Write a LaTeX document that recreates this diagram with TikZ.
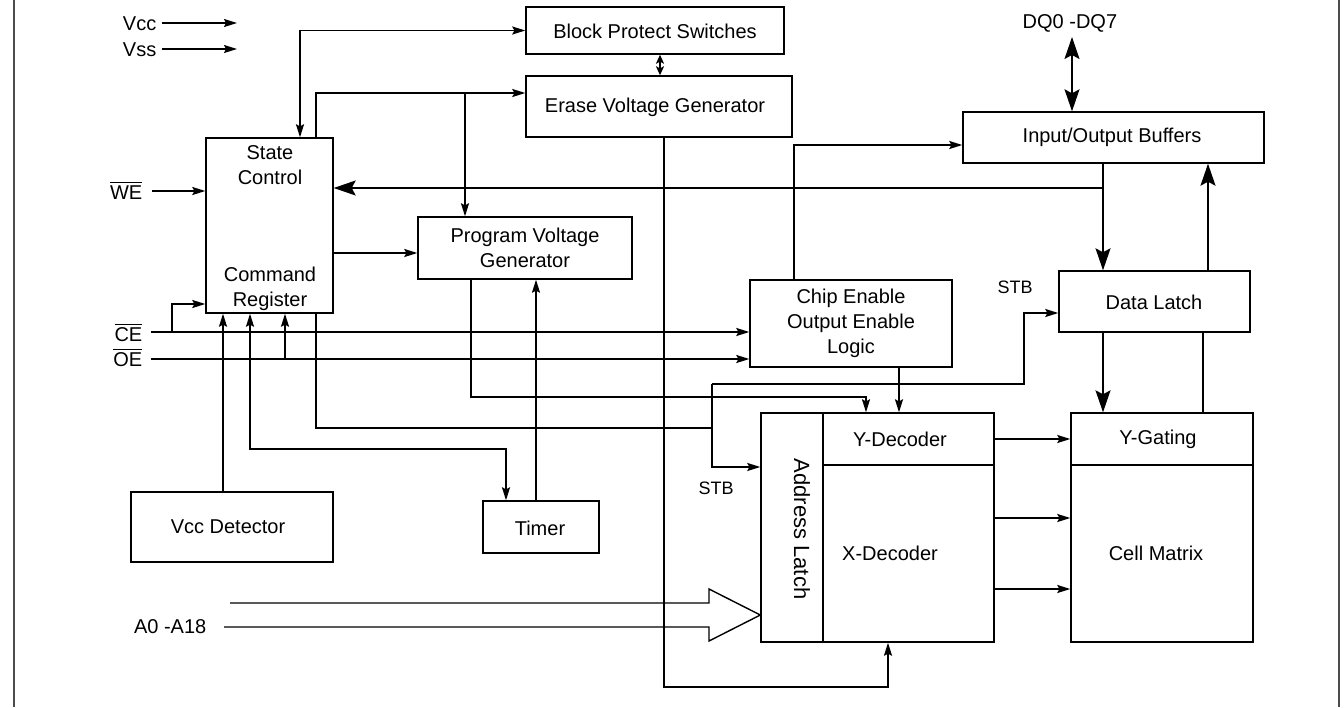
\documentclass[tikz,border=0pt]{standalone}
\usepackage{fontspec}
\setmainfont{Liberation Sans}
\usetikzlibrary{arrows.meta,fit}
\begin{document}
\begin{tikzpicture}[x=0.5pt,y=-0.5pt,
  line width=0.7pt,
  every node/.style={font=\fontsize{10}{12.5}\selectfont},
  box/.style={draw, inner sep=0pt},
  lbl/.style={inner sep=0pt, align=center},
  small/.style={font=\fontsize{9}{11}\selectfont},
  arr/.style={-{Stealth[length=6.5pt,width=4pt,inset=1pt]}},
  both/.style={{Stealth[length=6.5pt,width=4pt,inset=1pt]}-{Stealth[length=6.5pt,width=4pt,inset=1pt]}},
  tinyboth/.style={{Stealth[length=4.5pt,width=4pt,inset=1pt]}-{Stealth[length=4.5pt,width=4pt,inset=1pt]}},
  bigarr/.style={-{Stealth[length=11pt,width=7.5pt,inset=2pt]}},
  bigboth/.style={{Stealth[length=11pt,width=7.5pt,inset=2pt]}-{Stealth[length=11pt,width=7.5pt,inset=2pt]}},
  frame/.style={draw=black!70, line width=1pt}
]
\useasboundingbox (0,0) rectangle (1344,707);
\draw[frame] (14,0) -- (14,707);
\draw[frame] (1339,0) -- (1339,707);

% boxes
\node[box, fit={(526,7) (784,54)}] (bps) {};
\node[box, fit={(526,76) (792,137)}] (evg) {};
\node[box, fit={(206,138) (333,313)}] (sc) {};
\node[box, fit={(418,217) (632,279)}] (pvg) {};
\node[box, fit={(963,112) (1264,163)}] (iob) {};
\node[box, fit={(750,280) (952,367)}] (ceb) {};
\node[box, fit={(1059,271) (1250,332)}] (dl) {};
\node[box, fit={(761,413) (823,642)}] (al) {};
\node[box, fit={(823,413) (994,465)}] (yd) {};
\node[box, fit={(823,465) (994,642)}] (xd) {};
\node[box, fit={(1071,413) (1253,465)}] (yg) {};
\node[box, fit={(1071,465) (1253,642)}] (cm) {};
\node[box, fit={(131,492) (333,562)}] (vd) {};
\node[box, fit={(483,501) (599,553)}] (tm) {};

% box texts
\node[lbl] (bpstxt) at (655,31) {Block Protect Switches};
\node[lbl] (evgtxt) at (655,107) {Erase Voltage Generator};
\node[lbl] (sctxt) at (270,165) {State\\Control};
\node[lbl] (crtxt) at (270,289) {Command\\Register};
\node[lbl] (pvgtxt) at (pvg.center) {Program Voltage\\Generator};
\node[lbl] (iobtxt) at (1112,137) {Input/Output Buffers};
\node[lbl] (cebtxt) at (851,323) {Chip Enable\\Output Enable\\Logic};
\node[lbl] (dltxt) at (1154,302) {Data Latch};
\node[lbl, rotate=-90, font=\fontsize{11}{13}\selectfont] (altxt) at (802,529) {Address Latch};
\node[lbl] (ydtxt) at (900,439) {Y-Decoder};
\node[lbl] (xdtxt) at (890,553) {X-Decoder};
\node[lbl] (ygtxt) at (1158,439) {Y-Gating};
\node[lbl] (cmtxt) at (1156,553) {Cell Matrix};
\node[lbl] (vdtxt) at (228,527) {Vcc Detector};
\node[lbl] (tmtxt) at (540,528) {Timer};

% labels
\node[lbl, anchor=base east] (vcc) at (157,30) {Vcc};
\node[lbl, anchor=base east] (vss) at (157,56) {Vss};
\node[lbl, anchor=base east] (we) at (143,199) {$\overline{\hbox{WE}}$};
\node[lbl, anchor=base east] (cel) at (143,341) {$\overline{\hbox{CE}}$};
\node[lbl, anchor=base east] (oel) at (143,366) {$\overline{\hbox{OE}}$};
\node[lbl, anchor=base east] (addr) at (207,633) {A0 -A18};
\node[lbl, anchor=base west] (dq) at (1022,28) {DQ0 -DQ7};
\node[lbl, small, anchor=base west] (stb1) at (997,293) {STB};
\node[lbl, small, anchor=base west] (stb2) at (698,494) {STB};

% free ends
\coordinate (vccs) at (162,23);  \coordinate (vcce) at (237,23);
\coordinate (vsss) at (162,49);  \coordinate (vsse) at (237,49);
\coordinate (wes) at (152,191);
\coordinate (ces) at (151,332);
\coordinate (oes) at (151,359);
\coordinate (dqe) at (1072,37);
\coordinate (a1) at (230,603);
\coordinate (a2) at (224,627);

% power inputs
\draw[arr] (vccs) -- (vcce);
\draw[arr] (vsss) -- (vsse);

% state control to block protect / erase generator
\draw[both] (300,0 |- sc.north) |- (bps.west);
\draw[arr] (316,0 |- sc.north) |- (evg.west |- 0,93);
\draw[arr] (465,93) -- (465,0 |- pvg.north);
\draw[tinyboth] (660,0 |- bps.south) -- (660,0 |- evg.north);

% WE
\draw[arr] (wes) -- (sc.west |- wes);

% IO buffers / data latch column
\draw[bigboth] (dqe) -- (1072,0 |- iob.north);
\draw[bigarr] (1103,0 |- iob.south) -- (1103,0 |- dl.north);
\draw[bigarr] (1103,188) -- (sc.east |- 0,188);
\draw[bigarr] (1208,0 |- dl.north) -- (1208,0 |- iob.south);
\draw[bigarr] (1103,0 |- dl.south) -- (1103,0 |- yg.north);
\draw (1203,0 |- yg.north) -- (1203,0 |- dl.south);

% state control to program voltage generator
\draw[arr] (sc.east |- 0,253) -- (pvg.west |- 0,253);

% CE / OE
\draw[arr] (ces) -- (ceb.west |- ces);
\draw[arr] (oes) -- (ceb.west |- oes);
\draw[arr] (172,332) |- (sc.west |- 0,304);
\draw[arr] (285,359) -- (285,0 |- sc.south);

% Vcc detector
\draw[arr] (223,0 |- vd.north) -- (223,0 |- sc.south);

% timer loop
\draw[both] (250,0 |- sc.south) |- (506,449) -- (506,0 |- tm.north);
\draw[arr] (536,0 |- tm.north) -- (536,0 |- pvg.south);

% program voltage generator to Y decoder
\draw[arr] (471,0 |- pvg.south) |- (866,397) -- (866,0 |- yd.north);
% chip enable logic
\draw[arr] (899,0 |- ceb.south) -- (899,0 |- yd.north);
\draw[arr] (794,0 |- ceb.north) |- (iob.west |- 0,145);

% STB lines
\draw (316,0 |- sc.south) |- (712,428);
\draw[arr] (712,384) |- (al.west |- 0,467);
\draw[arr] (712,384) -| (1024,313) -- (dl.west |- 0,313);

% erase voltage generator to X decoder
\draw[arr] (664,0 |- evg.south) |- (888,687) -- (888,0 |- xd.south);

% decoders to array
\draw[arr] (yd.east) -- (yg.west);
\draw[arr] (xd.east |- 0,518) -- (cm.west |- 0,518);
\draw[arr] (xd.east |- 0,589) -- (cm.west |- 0,589);

% address bus
\draw (a1) -- (709,603) -- (709,589) -- (al.west |- 0,615) -- (709,641) -- (709,627) -- (a2);
\end{tikzpicture}
\end{document}
